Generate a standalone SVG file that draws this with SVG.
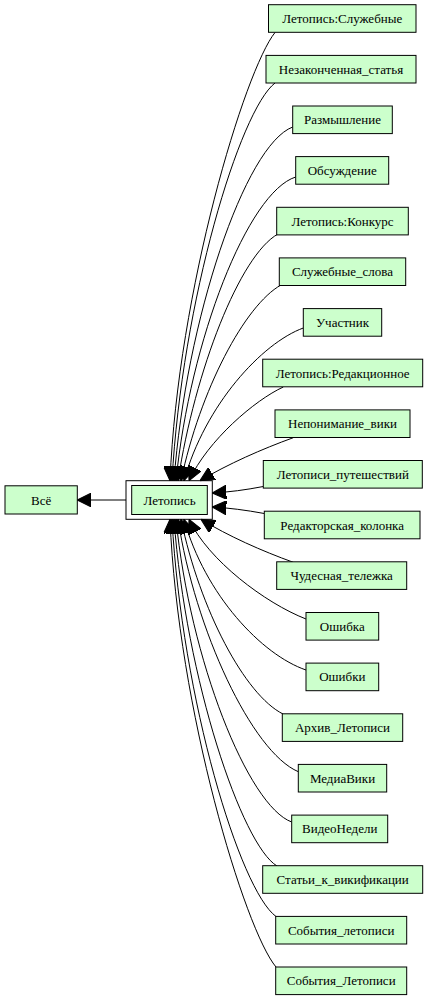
<svg xmlns="http://www.w3.org/2000/svg" width="429" height="1000" viewBox="0 0 429 1000">
<style>
.n rect{fill:#ccffcc;stroke:#000;stroke-width:1}
.n text{font-family:"Liberation Serif","Times New Roman",serif;font-size:13px;text-anchor:middle;fill:#000}
.e path{fill:none;stroke:#000;stroke-width:1;marker-end:url(#ah)}
</style>
<defs>
<marker id="ah" markerUnits="userSpaceOnUse" markerWidth="14" markerHeight="14" viewBox="0 0 13 13" refX="13" refY="6.5" orient="auto">
<path d="M0,0 L13,6.5 L0,13 z" fill="#000" stroke="#000" stroke-width="1"/>
</marker>
</defs>
<rect width="429" height="1000" fill="#fff"/>
<g id="edges" class="e">
<path d="M126,500 L77.3,500"/>
<path d="M275,32.5 C245,70 178,290 170,480.7"/>
<path d="M275,83 C240,110 182,300 172,480.7"/>
<path d="M292.7,127 C245,145 186,320 174,480.7"/>
<path d="M295.7,177 C248,192 190,340 176,480.7"/>
<path d="M278,234 C240,255 195,370 178,480.7"/>
<path d="M281,285 C245,305 200,390 181,480.7"/>
<path d="M303.3,328 C262,343 205,405 184,480.7"/>
<path d="M283.3,387 C255,400 208,440 189,480.7"/>
<path d="M293.3,437.7 C262,449 228,464 200,480.7"/>
<path d="M263.3,486.5 C245,490 230,492 212.3,493"/>
<path d="M264.3,513.5 C245,510 230,508 212.3,507"/>
<path d="M293.3,562.3 C262,551 228,536 201,519.3"/>
<path d="M306,619 C265,603 208,560 189,519.3"/>
<path d="M306,670 C262,655 205,595 184,519.3"/>
<path d="M283,714 C245,695 200,610 181,519.3"/>
<path d="M298.3,771.7 C252,752 195,630 178,519.3"/>
<path d="M291.7,822 C248,806 190,660 176,519.3"/>
<path d="M277,866 C242,845 186,680 174,519.3"/>
<path d="M276,916.5 C240,890 182,700 172,519.3"/>
<path d="M276,967 C245,930 178,710 170,519.3"/>
</g>
<g id="vse" class="n"><rect x="5" y="485.8" width="72.3" height="28.2"/><text x="41.2" y="504.5">Всё</text></g>
<g id="letopis" class="n"><rect x="126" y="480.7" width="86.3" height="38.6" style="fill:none"/><rect x="131.7" y="485.5" width="75.6" height="29"/><text x="169.5" y="504.5">Летопись</text></g>
<g id="n1" class="n"><rect x="268.5" y="4.7" width="147.5" height="27.6"/><text x="342.3" y="23">Летопись:Служебные</text></g>
<g id="n2" class="n"><rect x="266" y="55.4" width="150" height="27.6"/><text x="341" y="73.7">Незаконченная_статья</text></g>
<g id="n3" class="n"><rect x="292.7" y="106" width="99.6" height="27.6"/><text x="342.5" y="124.3">Размышление</text></g>
<g id="n4" class="n"><rect x="295.7" y="156.6" width="93" height="27.6"/><text x="342.2" y="174.9">Обсуждение</text></g>
<g id="n5" class="n"><rect x="276.7" y="207.3" width="131.6" height="27.6"/><text x="342.5" y="225.6">Летопись:Конкурс</text></g>
<g id="n6" class="n"><rect x="279.3" y="257.9" width="126.4" height="27.6"/><text x="342.5" y="276.2">Служебные_слова</text></g>
<g id="n7" class="n"><rect x="303.3" y="308.6" width="78.4" height="27.6"/><text x="342.5" y="326.9">Участник</text></g>
<g id="n8" class="n"><rect x="262.7" y="359.2" width="160" height="27.6"/><text x="342.7" y="377.5">Летопись:Редакционное</text></g>
<g id="n9" class="n"><rect x="275" y="409.9" width="135" height="27.6"/><text x="342.5" y="428.2">Непонимание_вики</text></g>
<g id="n10" class="n"><rect x="263.3" y="460.5" width="159" height="27.6"/><text x="342.8" y="478.8">Летописи_путешествий</text></g>
<g id="n11" class="n"><rect x="264.3" y="511.2" width="155.7" height="27.6"/><text x="342.2" y="529.5">Редакторская_колонка</text></g>
<g id="n12" class="n"><rect x="276.7" y="561.8" width="130" height="27.6"/><text x="341.7" y="580.1">Чудесная_тележка</text></g>
<g id="n13" class="n"><rect x="306" y="612.5" width="72.7" height="27.6"/><text x="342.3" y="630.8">Ошибка</text></g>
<g id="n14" class="n"><rect x="306" y="663.1" width="72.7" height="27.6"/><text x="342.3" y="681.4">Ошибки</text></g>
<g id="n15" class="n"><rect x="282.3" y="713.8" width="120.4" height="27.6"/><text x="342.5" y="732.1">Архив_Летописи</text></g>
<g id="n16" class="n"><rect x="298.3" y="764.4" width="88.4" height="27.6"/><text x="342.5" y="782.7">МедиаВики</text></g>
<g id="n17" class="n"><rect x="291.7" y="815.1" width="96" height="27.6"/><text x="339.7" y="833.4">ВидеоНедели</text></g>
<g id="n18" class="n"><rect x="262.7" y="865.7" width="160" height="27.6"/><text x="342.7" y="884">Статьи_к_викификации</text></g>
<g id="n19" class="n"><rect x="275.7" y="916.4" width="131" height="27.6"/><text x="341.2" y="934.7">События_летописи</text></g>
<g id="n20" class="n"><rect x="275.7" y="967" width="131" height="27.6"/><text x="341.2" y="985.3">События_Летописи</text></g>
</svg>
